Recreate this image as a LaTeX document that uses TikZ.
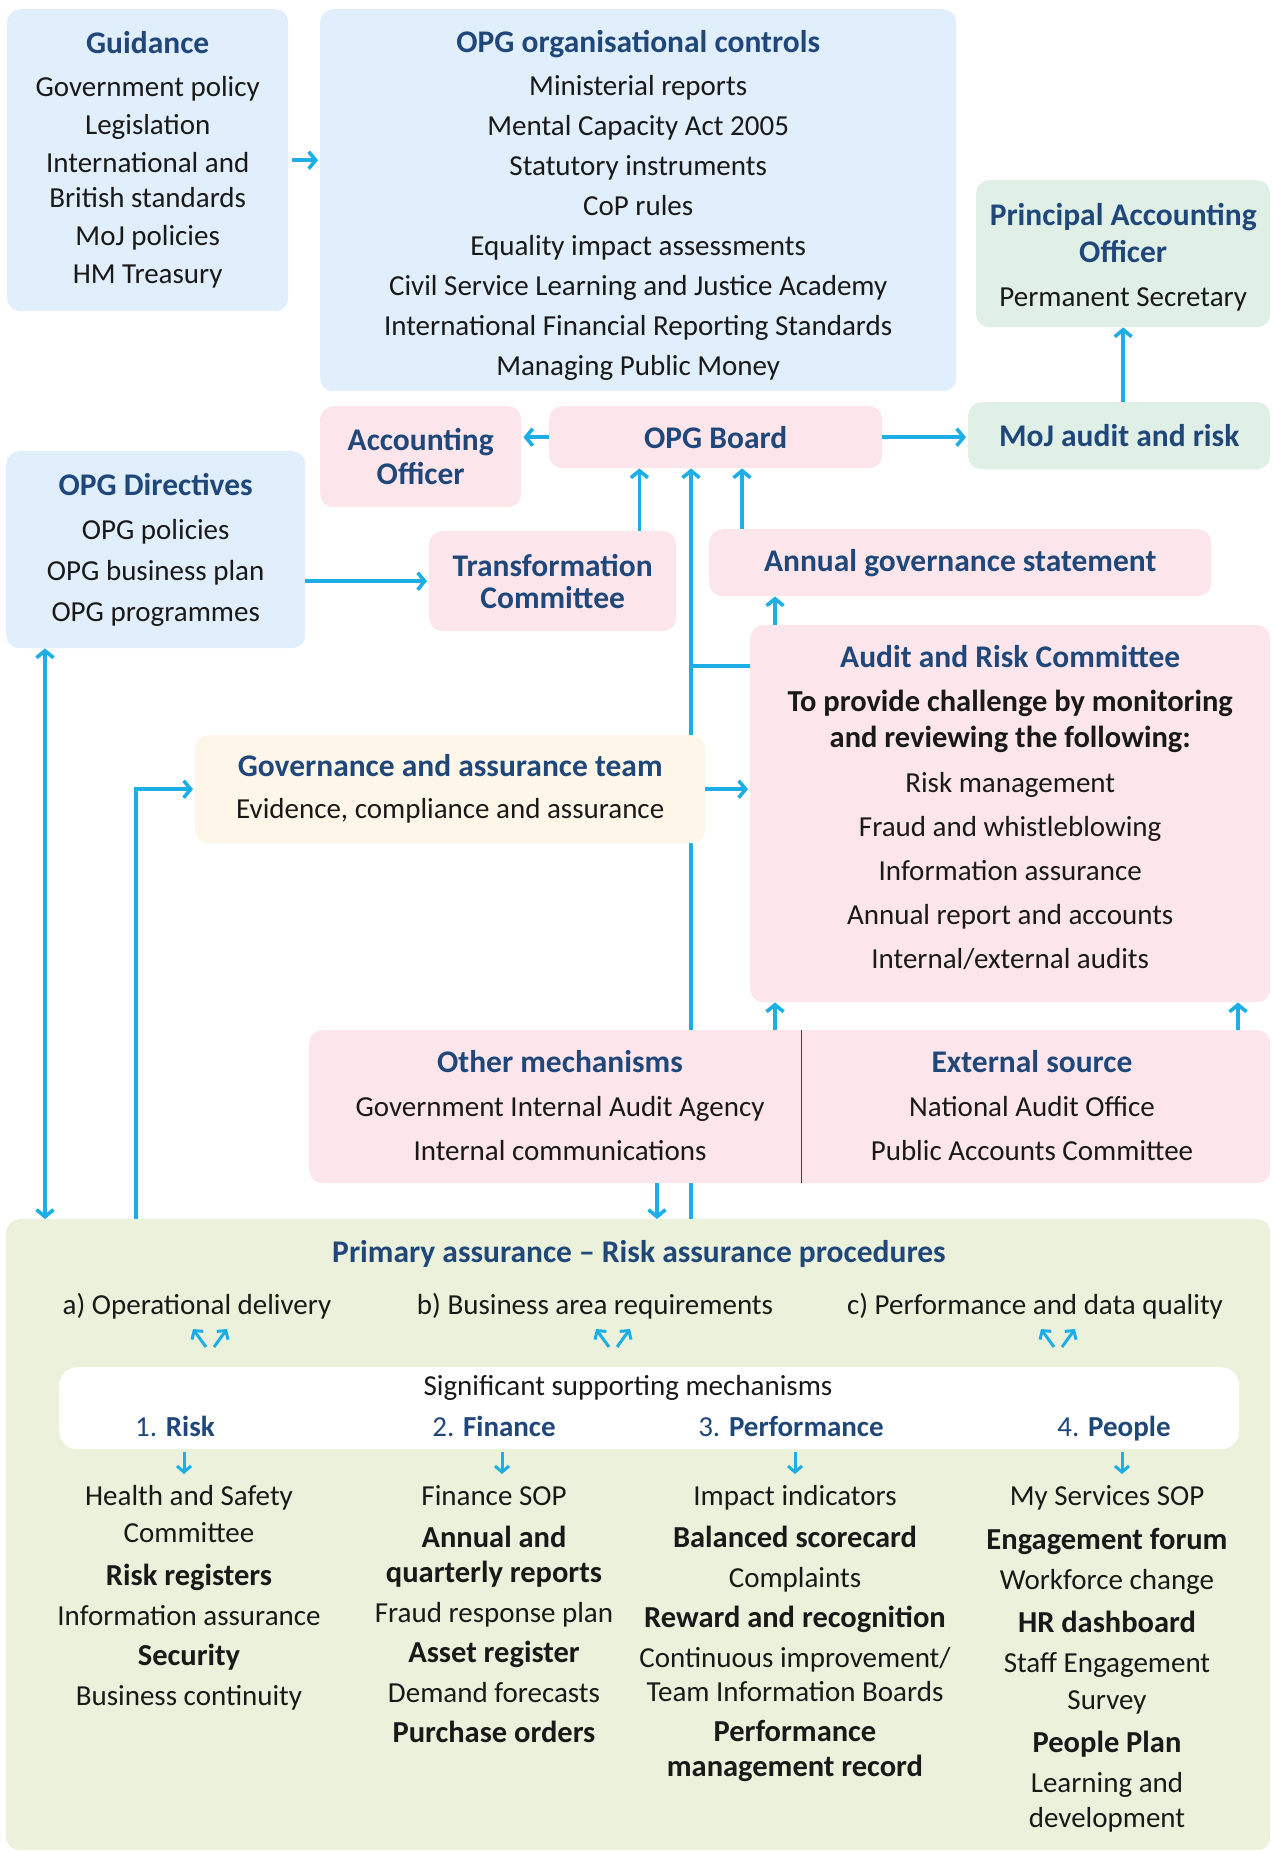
\documentclass[tikz,border=0pt]{standalone}
\usepackage{fontspec}
\setmainfont{Carlito}
\usetikzlibrary{arrows.meta,positioning,backgrounds}

\definecolor{opgblue}{HTML}{1F477A}
\definecolor{linkblue}{HTML}{1DAEE5}
\definecolor{paleblue}{HTML}{E1EEFB}
\definecolor{palepink}{HTML}{FCE6EB}
\definecolor{palemint}{HTML}{E0F0E6}
\definecolor{palecream}{HTML}{FEF6E8}
\definecolor{palegreen}{HTML}{EBF1DA}

\newcommand{\hd}[1]{{\fontsize{31.5}{\baselineskip}\selectfont\bfseries\color{opgblue}#1}}
\newcommand{\bd}[1]{{\fontsize{30.5}{\baselineskip}\selectfont\bfseries #1}}

\tikzset{
  box/.style={rounded corners=13pt, anchor=north west, align=center, inner sep=0pt},
  bluebox/.style={box, fill=paleblue},
  pinkbox/.style={box, fill=palepink},
  mintbox/.style={box, fill=palemint},
  creambox/.style={box, fill=palecream},
  greenbox/.style={box, fill=palegreen},
  txt/.style={align=center, inner sep=0pt},
  col/.style={txt, anchor=north, font=\fontsize{29}{40}\selectfont},
  link/.style={draw=linkblue, line width=3.6pt},
  arr/.style={link, -{Straight Barb[length=7pt,width=17pt]}},
  arrboth/.style={link, {Straight Barb[length=7pt,width=17pt]}-{Straight Barb[length=7pt,width=17pt]}},
  tinyarr/.style={draw=linkblue, line width=3pt, -{Straight Barb[length=6pt,width=14pt]}},
}

\begin{document}
\begin{tikzpicture}[x=1pt, y=-1pt, text=black!90, font=\fontsize{29}{38}\selectfont]
\useasboundingbox (0,0) rectangle (1272,1852);

% ----------------------------------------------------------
% Guidance and controls
% ----------------------------------------------------------
\node[bluebox, minimum width=281pt, minimum height=302pt] (guide) at (7,9)
  {\hd{Guidance}\\[5pt] Government policy\\ Legislation\\ International and\\[-3pt] British standards\\ MoJ policies\\ HM Treasury};

\node[bluebox, minimum width=636pt, minimum height=382pt, font=\fontsize{29}{40}\selectfont] (orgctl) at (320,9)
  {\rule{0pt}{33pt}\hd{OPG organisational controls}\\[3pt] Ministerial reports\\ Mental Capacity Act 2005\\ Statutory instruments\\ CoP rules\\ Equality impact assessments\\ Civil Service Learning and Justice Academy\\ International Financial Reporting Standards\\ Managing Public Money};

\node[mintbox, minimum width=294pt, minimum height=147pt, font=\fontsize{29}{37}\selectfont] (pao) at (976,180)
  {\rule{0pt}{30pt}\hd{Principal Accounting}\\ \hd{Officer}\\[7pt] Permanent Secretary};

% ----------------------------------------------------------
% Board level
% ----------------------------------------------------------
\node[pinkbox, minimum width=201pt, minimum height=101pt, font=\fontsize{29}{34}\selectfont] (acco) at (320,406) {\hd{Accounting}\\ \hd{Officer}};
\node[pinkbox, minimum width=333pt, minimum height=62pt] (board) at (549,406) {\hd{OPG Board}};
\node[mintbox, minimum width=302pt, minimum height=67pt] (mojar) at (968,402) {\hd{MoJ audit and risk}};

\node[bluebox, minimum width=299pt, minimum height=197pt, font=\fontsize{29}{41}\selectfont] (dirs) at (6,451)
  {\hd{OPG Directives}\\[3pt] OPG policies\\ OPG business plan\\ OPG programmes};
\node[pinkbox, minimum width=247pt, minimum height=100pt, font=\fontsize{29}{32}\selectfont] (trans) at (429,531) {\hd{Transformation}\\ \hd{Committee}};
\node[pinkbox, minimum width=502pt, minimum height=67pt] (ags) at (709,529) {\hd{Annual governance statement}};

\node[pinkbox, minimum width=520pt, minimum height=377pt, font=\fontsize{29}{44}\selectfont] (arc) at (750,625)
  {\hd{Audit and Risk Committee}\\[0pt] \bd{To provide challenge by monitoring}\\[-8pt] \bd{and reviewing the following:}\\[1pt] Risk management\\ Fraud and whistleblowing\\ Information assurance\\ Annual report and accounts\\ Internal/external audits\rule[-13pt]{0pt}{0pt}};

\node[creambox, minimum width=510pt, minimum height=108pt, font=\fontsize{29}{42}\selectfont] (gat) at (195,735)
  {\hd{Governance and assurance team}\\ Evidence, compliance and assurance};

% ----------------------------------------------------------
% Other and external mechanisms
% ----------------------------------------------------------
\node[pinkbox, minimum width=961pt, minimum height=153pt] (mech) at (309,1030) {};
\node[txt, font=\fontsize{29}{44}\selectfont] (other) at (560,1106)
  {\hd{Other mechanisms}\\ Government Internal Audit Agency\\ Internal communications};
\node[txt, font=\fontsize{29}{44}\selectfont] (extsrc) at (1032,1106)
  {\hd{External source}\\ National Audit Office\\ Public Accounts Committee};
\coordinate (split) at (801,1030);
\draw[opgblue, line width=0.8pt] (split) -- (split |- mech.south);

% ----------------------------------------------------------
% Primary assurance
% ----------------------------------------------------------
\node[greenbox, minimum width=1264pt, minimum height=631pt] (prim) at (6,1219) {};
\node[txt, anchor=base] (primt) at (639,1262) {\hd{Primary assurance -- Risk assurance procedures}};
\node[txt, anchor=base] (opdel) at (197,1314) {a) Operational delivery};
\node[txt, anchor=base] (bizreq) at (595,1314) {b) Business area requirements};
\node[txt, anchor=base] (perfq) at (1035,1314) {c) Performance and data quality};

\node[box, fill=white, rounded corners=18pt, minimum width=1180pt, minimum height=82pt] (supp) at (59,1367) {};
\node[txt, anchor=base] (suppt) at (628,1395) {Significant supporting mechanisms};
\node[txt, anchor=base, text=opgblue] (hrisk) at (175,1436) {1. \textbf{Risk}};
\node[txt, anchor=base, text=opgblue] (hfin) at (494,1436) {2. \textbf{Finance}};
\node[txt, anchor=base, text=opgblue] (hperf) at (791,1436) {3. \textbf{Performance}};
\node[txt, anchor=base, text=opgblue] (hpeople) at (1114,1436) {4. \textbf{People}};

\node[col] (crisk) at (189,1485)
  {Health and Safety\\[-3pt] Committee\\[3pt] \bd{Risk registers}\\ Information assurance\\ \bd{Security}\\ Business continuity};
\node[col] (cfin) at (494,1485)
  {Finance SOP\\[2pt] \bd{Annual and}\\[-5pt] \bd{quarterly reports}\\ Fraud response plan\\ \bd{Asset register}\\ Demand forecasts\\ \bd{Purchase orders}};
\node[col] (cperf) at (795,1485)
  {Impact indicators\\[2pt] \bd{Balanced scorecard}\\ Complaints\\ \bd{Reward and recognition}\\ Continuous improvement/\\[-6pt] Team Information Boards\\ \bd{Performance}\\[-5pt] \bd{management record}};
\node[col] (cpeople) at (1107,1485)
  {My Services SOP\\[4pt] \bd{Engagement forum}\\ Workforce change\\[3pt] \bd{HR dashboard}\\ Staff Engagement\\[-3pt] Survey\\[3pt] \bd{People Plan}\\ Learning and\\[-5pt] development};

% ----------------------------------------------------------
% Connectors
% ----------------------------------------------------------
\draw[arr, shorten <=4pt, shorten >=2pt] (guide.east) -- (orgctl.west |- guide.east);
\draw[arr, shorten >=2pt] (board.west) -- (acco.east |- board.west);
\draw[arr, shorten >=2pt] (board.east) -- (mojar.west |- board.east);
\draw[arr] (mojar.north -| pao.south) -- (pao.south);

\coordinate (tup) at ([xshift=-37pt]trans.north east);
\draw[arr] (tup) -- (tup |- board.south);
\coordinate (agsup) at ([xshift=33pt]ags.north west);
\draw[arr] (agsup) -- (agsup |- board.south);
\coordinate (arcup) at ([xshift=25pt]arc.north west);
\draw[arr] (arcup) -- (arcup |- ags.south);

% spine behind the boxes
\coordinate (spine) at (691,1219);
\coordinate (arcjoin) at ([yshift=-41pt]arc.north west);
\begin{scope}[on background layer]
  \draw[arr] (spine) -- (spine |- board.south);
  \draw[link] (spine |- arcjoin) -- (arcjoin);
\end{scope}

\draw[arr, shorten >=2pt] (dirs.east |- trans.west) -- (trans.west);
\draw[arr, shorten >=2pt] (gat.east) -- (arc.west |- gat.east);
\coordinate (gatfeed) at (136,1219);
\draw[arr, shorten >=2pt] (gatfeed) |- (gat.west);
\coordinate (dirsdown) at ([xshift=39pt]dirs.south west);
\draw[arrboth] (dirsdown) -- (dirsdown |- prim.north);
\coordinate (mechdown) at (657,1183);
\draw[arr] (mechdown) -- (mechdown |- prim.north);
\foreach \cx [count=\i] in {775,1238} {
  \coordinate (mechup\i) at (\cx,1030);
  \draw[arr] (mechup\i) -- (mechup\i |- arc.south);
}

% small links inside primary assurance
\foreach \cx/\nm in {210/opdel, 613/bizreq, 1058/perfq} {
  \coordinate (fork-\nm) at (\cx,1347);
  \draw[tinyarr] ([xshift=-4pt]fork-\nm) -- ++(-13,-18);
  \draw[tinyarr] ([xshift=4pt]fork-\nm) -- ++(13,-18);
}
\foreach \cx/\nm in {184/crisk, 502/cfin, 795/cperf, 1122/cpeople} {
  \coordinate (drop-\nm) at (\cx,1452);
  \draw[tinyarr] (drop-\nm) -- ++(0,22);
}

\end{tikzpicture}
\end{document}
